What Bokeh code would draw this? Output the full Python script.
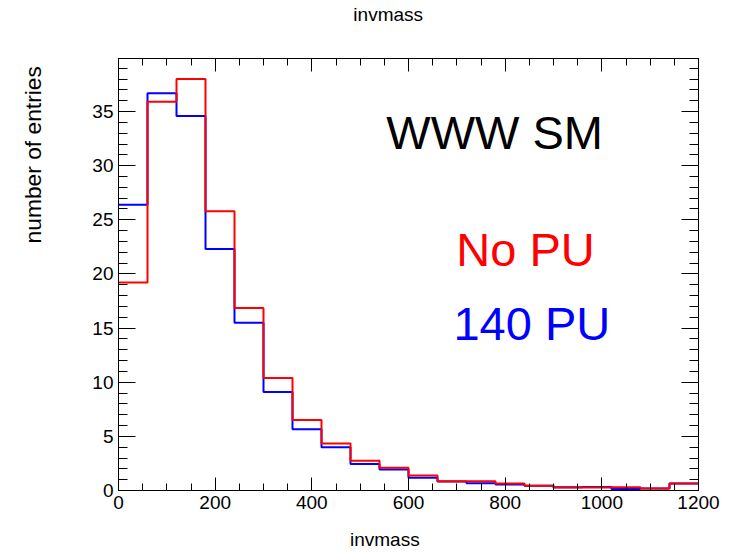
from bokeh.plotting import figure
from bokeh.models import (LinearAxis, SingleIntervalTicker, FixedTicker, Label,
                          Range1d, CustomJSTickFormatter)
from bokeh.embed import file_html
from bokeh.resources import INLINE
from math import pi

# bin edges (GeV) of the invmass histogram
bin_edges = [0, 60, 120, 180, 240, 300, 360, 420, 480, 540, 600,
             660, 720, 780, 840, 900, 960, 1020, 1080, 1140, 1200]
# entries per bin
pu140 = [26.4, 36.7, 34.6, 22.3, 15.5, 9.1, 5.65, 4.0, 2.45, 1.93,
         1.17, 0.83, 0.68, 0.55, 0.43, 0.30, 0.33, 0.15, 0.18, 0.64]
nopu = [19.2, 35.9, 38.0, 25.8, 16.85, 10.4, 6.5, 4.33, 2.75, 2.09,
        1.38, 0.86, 0.86, 0.64, 0.43, 0.28, 0.28, 0.30, 0.18, 0.64]
x_ticks_major = 200
y_ticks_major = 5

FONT = "Liberation Sans"

p = figure(width=732, height=552, output_backend="svg", toolbar_location=None,
           x_range=Range1d(0, 1200), y_range=Range1d(0, 39.9),
           x_axis_location=None, y_axis_location=None,
           min_border_left=118, min_border_right=34,
           min_border_top=57, min_border_bottom=62)
p.grid.visible = False
p.outline_line_color = "black"
p.outline_line_width = 1
p.background_fill_color = "white"
p.border_fill_color = "white"


def make_axis(ticker, tin, minin, labels):
    ax = LinearAxis(ticker=ticker)
    ax.major_tick_in = tin
    ax.major_tick_out = 0
    ax.minor_tick_in = minin
    ax.minor_tick_out = 0
    ax.axis_line_color = "black"
    ax.major_tick_line_color = "black"
    ax.minor_tick_line_color = "black"
    if labels:
        ax.major_label_text_font = FONT
        ax.major_label_text_font_size = "19px"
        ax.major_label_text_color = "black"
        ax.major_label_standoff = 5
    else:
        ax.formatter = CustomJSTickFormatter(code="return ''")
        ax.major_label_standoff = 0
    return ax


def title_axis(pos, text, standoff, size, orientation="horizontal",
               line_height=1.2):
    # an axis with a single unmarked tick that carries a title text
    ax = LinearAxis(ticker=FixedTicker(ticks=[pos], minor_ticks=[]))
    ax.major_label_overrides = {pos: text}
    ax.major_tick_in = 0
    ax.major_tick_out = 0
    ax.minor_tick_in = 0
    ax.minor_tick_out = 0
    ax.axis_line_color = None
    ax.major_tick_line_color = None
    ax.minor_tick_line_color = None
    ax.major_label_text_font = FONT
    ax.major_label_text_font_size = size
    ax.major_label_text_color = "black"
    ax.major_label_text_line_height = line_height
    ax.major_label_standoff = standoff
    ax.major_label_orientation = orientation
    return ax


xt = lambda: SingleIntervalTicker(interval=x_ticks_major, num_minor_ticks=4)
yt = lambda: SingleIntervalTicker(interval=y_ticks_major, num_minor_ticks=5)

p.add_layout(make_axis(xt(), 13, 7, True), "below")
p.add_layout(make_axis(xt(), 13, 7, False), "above")
p.add_layout(make_axis(yt(), 17, 9, True), "left")
p.add_layout(make_axis(yt(), 17, 9, False), "right")

# titles: histogram title (top), x title (bottom), y title (left)
p.add_layout(title_axis(558, "invmass", 34, "19px"), "above")
p.add_layout(title_axis(551, "invmass", 17, "19px", line_height=0.8), "below")
p.add_layout(title_axis(39.2, "number of entries", 56, "22.8px", pi / 2),
             "left")

p.step(x=bin_edges, y=pu140 + [pu140[-1]], mode="after",
       line_color="#0000ff", line_width=2)
p.step(x=bin_edges, y=nopu + [nopu[-1]], mode="after",
       line_color="#ff0000", line_width=2)

p.add_layout(Label(x=554, y=33.1, text="WWW SM", text_font=FONT,
                   text_font_size="47px", text_color="black",
                   text_baseline="alphabetic", text_align="left"))
p.add_layout(Label(x=699, y=22.3, text="No PU", text_font=FONT,
                   text_font_size="47px", text_color="#ff0000",
                   text_baseline="alphabetic", text_align="left"))
p.add_layout(Label(x=693, y=15.4, text="140 PU", text_font=FONT,
                   text_font_size="47px", text_color="#0000ff",
                   text_baseline="alphabetic", text_align="left"))

open("out.html", "w").write(file_html(p, INLINE))
